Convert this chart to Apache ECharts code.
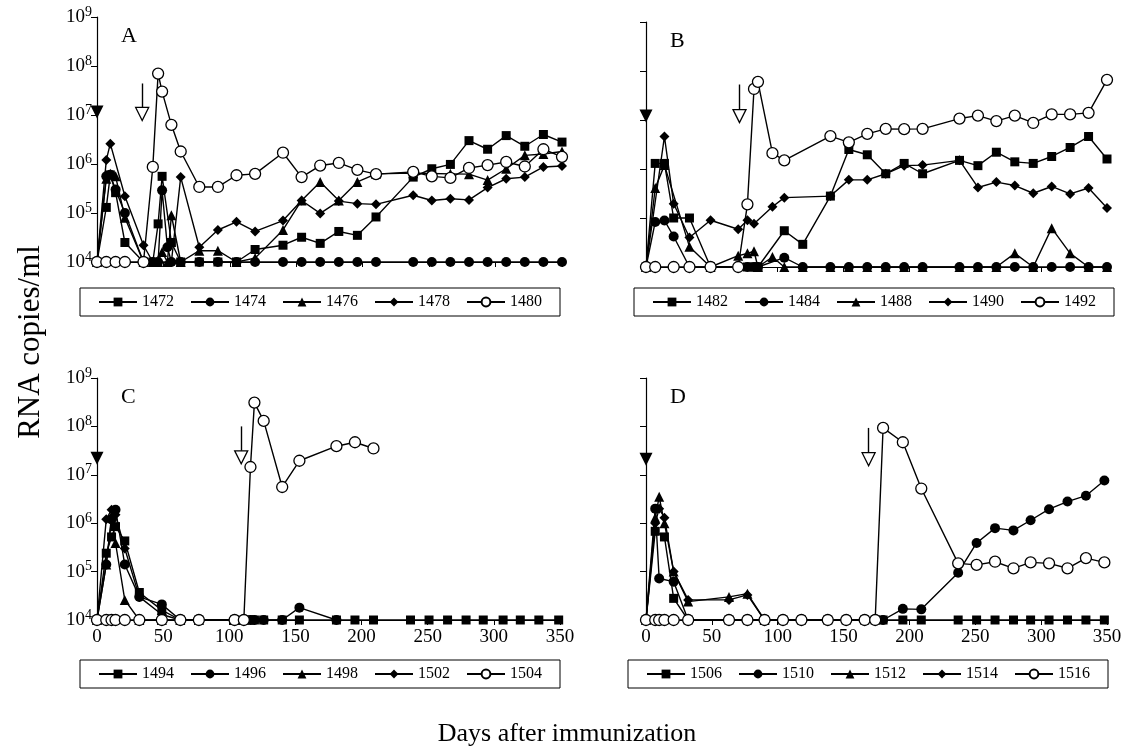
<!DOCTYPE html>
<html>
<head>
<meta charset="utf-8">
<script src="https://cdn.jsdelivr.net/npm/echarts@6/dist/echarts.min.js"></script>
<style>
  html, body { margin: 0; padding: 0; background: #fff; }
  #chart { width: 1125px; height: 751px; }
</style>
</head>
<body>
<div id="chart"></div>
<script>
// sampling days per panel
var daysA = [0, 7, 10, 14, 21, 35, 42, 46, 49, 53, 56, 63, 77, 91, 105, 119, 140, 154, 168, 182, 196, 210, 238, 252, 266, 280, 294, 308, 322, 336, 350];
var daysB = [0, 7, 14, 21, 33, 49, 70, 77, 82, 85, 96, 105, 119, 140, 154, 168, 182, 196, 210, 238, 252, 266, 280, 294, 308, 322, 336, 350];
var daysC = [0, 7, 11, 14, 21, 32, 49, 63, 77, 104, 111, 116, 119, 126, 140, 153, 181, 195, 209, 237, 251, 265, 279, 292, 307, 320, 334, 349];
var daysD = [0, 7, 10, 14, 21, 32, 63, 77, 90, 104, 118, 138, 152, 166, 174, 180, 195, 209, 237, 251, 265, 279, 292, 306, 320, 334, 348];

// RNA copies/ml, panel A
var a1472 = [1e4, 1.3e5, 6e5, 2.6e5, 2.5e4, 1e4, 1e4, 6e4, 5.6e5, null, 2.5e4, 1e4, 1e4, 1e4, 1e4, 1.8e4, 2.2e4, 3.2e4, 2.4e4, 4.2e4, 3.5e4, 8.3e4, 5.4e5, 8e5, 9.8e5, 3e6, 2e6, 3.8e6, 2.3e6, 4e6, 2.8e6];
var a1474 = [1e4, 5.6e5, 6e5, 3e5, 1e5, 1e4, 1e4, 1e4, 2.9e5, 2e4, 1e4, 1e4, 1e4, 1e4, 1e4, 1e4, 1e4, 1e4, 1e4, 1e4, 1e4, 1e4, 1e4, 1e4, 1e4, 1e4, 1e4, 1e4, 1e4, 1e4, 1e4];
var a1476 = [1e4, 5e5, 6.3e5, 5.6e5, 8e4, 1e4, 1e4, 1e4, 1.6e4, 1e4, 9e4, 1e4, 1.7e4, 1.7e4, 1e4, 1.2e4, 4.5e4, 1.8e5, 4.3e5, 1.8e5, 4.3e5, 6.3e5, 6.5e5, 6.4e5, 6.3e5, 6.2e5, 4.7e5, 8e5, 1.5e6, 1.6e6, 1.8e6];
var a1478 = [1e4, 1.2e6, 2.6e6, null, 2.2e5, 2.2e4, 1e4, null, null, null, 1e4, 5.4e5, 2e4, 4.5e4, 6.6e4, 4.2e4, 7e4, 1.8e5, 9.8e4, 1.75e5, 1.55e5, 1.5e5, 2.3e5, 1.8e5, 1.95e5, 1.85e5, 3.3e5, 5e5, 5.4e5, 8.7e5, 9.1e5];
var a1480 = [1e4, 1e4, null, 1e4, 1e4, 1e4, 8.7e5, 7e7, 3e7, null, 6.3e6, 1.8e6, 3.4e5, 3.4e5, 5.9e5, 6.3e5, 1.7e6, 5.4e5, 9.3e5, 1.05e6, 7.6e5, 6.2e5, 6.9e5, 5.6e5, 5.2e5, 8.3e5, 9.5e5, 1.1e6, 8.9e5, 2e6, 1.4e6];

// panel B
var b1482 = [1e4, 1.3e6, 1.3e6, 1e5, 1e5, 1e4, null, 1e4, 1e4, 1e4, null, 5.5e4, 2.9e4, 2.8e5, 2.5e6, 1.95e6, 8e5, 1.3e6, 8e5, 1.5e6, 1.17e6, 2.2e6, 1.4e6, 1.3e6, 1.8e6, 2.75e6, 4.6e6, 1.6e6];
var b1484 = [1e4, 8.3e4, 8.9e4, 4.2e4, 1e4, 1e4, 1e4, 1e4, 1e4, 1e4, null, 1.55e4, 1e4, 1e4, 1e4, 1e4, 1e4, 1e4, 1e4, 1e4, 1e4, 1e4, 1e4, 1e4, 1e4, 1e4, 1e4, 1e4];
var b1488 = [1e4, 4.1e5, 1.2e6, null, 2.6e4, 1e4, 1.7e4, 1.9e4, 2.1e4, 1e4, 1.6e4, 1e4, 1e4, 1e4, 1e4, 1e4, 1e4, 1e4, 1e4, 1e4, 1e4, 1e4, 1.9e4, 1e4, 6.2e4, 1.9e4, 1e4, 1e4];
var b1490 = [1e4, null, 4.6e6, 1.95e5, 4e4, 9e4, 5.9e4, 9e4, 7.6e4, null, 1.7e5, 2.6e5, null, 2.8e5, 6e5, 6e5, 8e5, 1.17e6, 1.2e6, 1.5e6, 4.2e5, 5.4e5, 4.6e5, 3.2e5, 4.4e5, 3.1e5, 4.1e5, 1.6e5];
var b1492 = [1e4, 1e4, null, 1e4, 1e4, 1e4, 1e4, 1.9e5, 4.3e7, 6e7, 2.1e6, 1.5e6, null, 4.7e6, 3.5e6, 5.2e6, 6.6e6, 6.5e6, 6.6e6, 1.07e7, 1.23e7, 9.5e6, 1.23e7, 8.7e6, 1.3e7, 1.3e7, 1.4e7, 6.6e7];

// panel C
var c1494 = [1e4, 2.4e5, 5.2e5, 8.5e5, 4.3e5, 3.7e4, 1.6e4, 1e4, 1e4, 1e4, 1e4, 1e4, 1e4, 1e4, 1e4, 1e4, 1e4, 1e4, 1e4, 1e4, 1e4, 1e4, 1e4, 1e4, 1e4, 1e4, 1e4, 1e4];
var c1496 = [1e4, 1.4e5, 1.2e6, 1.9e6, 1.4e5, 3e4, 2.1e4, 1e4, 1e4, 1e4, 1e4, 1e4, 1e4, 1e4, 1e4, 1.8e4, 1e4];
var c1498 = [1e4, 1.4e5, 1.4e6, 3.9e5, 2.6e4, 1e4, 1e4, 1e4, 1e4, 1e4, 1e4];
var c1502 = [1e4, 1.2e6, 1.9e6, 1.5e6, 3e5, 3e4, 1.3e4, 1e4, 1e4, 1e4, 1e4];
var c1504 = [1e4, 1e4, 1e4, 1e4, 1e4, 1e4, 1e4, 1e4, 1e4, 1e4, 1e4, 1.45e7, 3.1e8, 1.3e8, 5.6e6, 1.95e7, 3.9e7, 4.7e7, 3.5e7];

// panel D
var d1506 = [1e4, 6.8e5, null, 5.2e5, 2.8e4, 1e4, 1e4, 1e4, 1e4, 1e4, 1e4, 1e4, 1e4, 1e4, 1e4, 1e4, 1e4, 1e4, 1e4, 1e4, 1e4, 1e4, 1e4, 1e4, 1e4, 1e4, 1e4];
var d1510 = [1e4, 2e6, 7.2e4, null, 6.2e4, 1e4, 1e4, 1e4, 1e4, 1e4, 1e4, 1e4, 1e4, 1e4, 1e4, 1e4, 1.7e4, 1.66e4, 9.5e4, 3.9e5, 7.9e5, 7.1e5, 1.15e6, 1.95e6, 2.8e6, 3.7e6, 7.6e6];
var d1512 = [1e4, 1.3e6, 3.5e6, 1e6, 1e5, 2.4e4, 3e4, 3.5e4, 1e4];
var d1514 = [1e4, 1e6, 2e6, 1.3e6, 1e5, 2.6e4, 2.6e4, 3.3e4, 1e4];
var d1516 = [1e4, 1e4, 1e4, 1e4, 1e4, 1e4, 1e4, 1e4, 1e4, 1e4, 1e4, 1e4, 1e4, 1e4, 1e4, 9.3e7, 4.7e7, 5.2e6, 1.48e5, 1.38e5, 1.6e5, 1.17e5, 1.55e5, 1.48e5, 1.17e5, 1.9e5, 1.55e5];

var panelNames = ['A', 'B', 'C', 'D'];
// first immunization (filled arrow) and boost (open arrow), per panel
var boostDay = [34, 71, 109, 169];
var boostTop = [4.4e7, 5.3e7, 1e8, 9.3e7];
var boostTip = [1.05e7, 1.2e7, 2.3e7, 2.1e7];
var primeTip = [1.15e7, 1.2e7, 2.2e7, 2.1e7];

var SERIF = '"Liberation Serif", "DejaVu Serif", serif';
var shapes = ['rect', 'circle', 'triangle', 'diamond', 'circle'];
var sizes = [9, 10, 10, 10, 11];

var grids = [
  {left: 97, top: 17, width: 465, height: 245},
  {left: 646, top: 22, width: 461, height: 245},
  {left: 97, top: 378, width: 463, height: 242},
  {left: 646, top: 378, width: 461, height: 242}
];

var panels = [
  {days: daysA, names: ['1472', '1474', '1476', '1478', '1480'], vals: [a1472, a1474, a1476, a1478, a1480]},
  {days: daysB, names: ['1482', '1484', '1488', '1490', '1492'], vals: [b1482, b1484, b1488, b1490, b1492]},
  {days: daysC, names: ['1494', '1496', '1498', '1502', '1504'], vals: [c1494, c1496, c1498, c1502, c1504]},
  {days: daysD, names: ['1506', '1510', '1512', '1514', '1516'], vals: [d1506, d1510, d1512, d1514, d1516]}
];

var xAxes = [], yAxes = [], series = [], legends = [], graphics = [];
var legendPos = [
  {left: 80, top: 288},
  {left: 634, top: 288},
  {left: 80, top: 660},
  {left: 628, top: 660}
];

panels.forEach(function (p, g) {
  var showX = g >= 2, showY = g % 2 === 0;
  xAxes.push({
    gridIndex: g, type: 'value', min: 0, max: 350, interval: 50,
    axisLine: {lineStyle: {color: '#000', width: 1.2}},
    axisTick: {show: true, length: 5, lineStyle: {color: '#000'}},
    axisLabel: {show: showX, color: '#000', fontFamily: SERIF, fontSize: 19, margin: 8},
    splitLine: {show: false}
  });
  yAxes.push({
    gridIndex: g, type: 'log', logBase: 10, min: 1e4, max: 1e9,
    axisLine: {show: true, lineStyle: {color: '#000', width: 1.2}},
    axisTick: {show: true, length: 6, lineStyle: {color: '#000'}},
    minorTick: {show: false},
    axisLabel: {
      show: showY, margin: 5,
      formatter: function (v) { return '{b|10}{s|' + Math.round(Math.log10(v)) + '}'; },
      rich: {
        b: {fontFamily: SERIF, fontSize: 19, color: '#000', lineHeight: 24},
        s: {fontFamily: SERIF, fontSize: 14, color: '#000', verticalAlign: 'top', lineHeight: 15}
      }
    },
    splitLine: {show: false}
  });
  p.names.forEach(function (name, k) {
    var open = k === 4;
    var s = {
      name: name, type: 'line', xAxisIndex: g, yAxisIndex: g,
      data: p.vals[k].map(function (v, i) { return [p.days[i], v]; }),
      connectNulls: true,
      symbol: shapes[k], symbolSize: sizes[k], showAllSymbol: true,
      lineStyle: {color: '#000', width: 1.4},
      itemStyle: open ? {color: '#fff', borderColor: '#000', borderWidth: 1.3} : {color: '#000'},
      emphasis: {disabled: true},
      z: 2 + k
    };
    if (k === 0) {
      s.markLine = {
        silent: true, symbol: ['none', 'none'], label: {show: false},
        lineStyle: {color: '#000', width: 1.4, type: 'solid'},
        data: [[{coord: [boostDay[g], boostTop[g]]}, {coord: [boostDay[g], boostTip[g] * 1.25]}]]
      };
      s.markPoint = {
        silent: true, label: {show: false},
        data: [
          {coord: [0, primeTip[g]], symbol: 'triangle', symbolRotate: 180, symbolSize: [13, 13],
           itemStyle: {color: '#000'}},
          {coord: [boostDay[g], boostTip[g]], symbol: 'triangle', symbolRotate: 180, symbolSize: [13, 13],
           itemStyle: {color: '#fff', borderColor: '#000', borderWidth: 1.3}}
        ]
      };
    }
    series.push(s);
  });
  var lp = legendPos[g];
  legends.push({
    data: p.names, left: lp.left, top: lp.top,
    orient: 'horizontal', selectedMode: false,
    borderColor: '#000', borderWidth: 1, borderRadius: 0,
    padding: [6, 18, 6, 18], itemGap: 16, itemWidth: 38, itemHeight: 11,
    textStyle: {fontFamily: SERIF, fontSize: 16, color: '#000'}
  });
  graphics.push({
    type: 'text', left: grids[g].left + 24, top: grids[g].top + 8,
    style: {text: panelNames[g], font: '22px ' + SERIF, fill: '#000'}
  });
});

graphics.push({
  type: 'text', x: 15, y: 342, rotation: Math.PI / 2,
  style: {text: 'RNA copies/ml', font: '31px ' + SERIF, fill: '#000', align: 'center', verticalAlign: 'top'}
});
graphics.push({
  type: 'text', x: 567, y: 734,
  style: {text: 'Days after immunization', font: '26px ' + SERIF, fill: '#000', align: 'center', verticalAlign: 'middle'}
});

var option = {
  animation: false,
  backgroundColor: '#fff',
  grid: grids,
  xAxis: xAxes,
  yAxis: yAxes,
  legend: legends,
  series: series,
  graphic: graphics
};

var chart = echarts.init(document.getElementById('chart'));
chart.setOption(option);
</script>
</body>
</html>
